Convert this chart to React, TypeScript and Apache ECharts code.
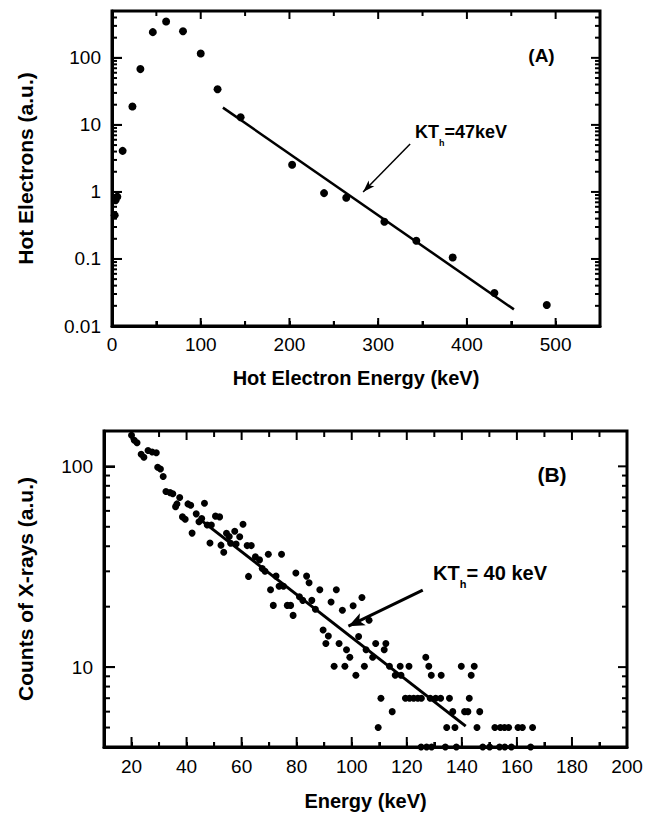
import React, { useEffect, useRef } from 'react';
import * as echarts from 'echarts';

// ---------- Panel (A) data ----------
const energyA = [3, 4, 6, 12, 23, 32, 46, 61, 80, 100, 119, 145, 203, 239, 264, 307, 343, 384, 431, 490];
const electronsA = [0.45, 0.75, 0.85, 4.1, 18.8, 68, 242, 348, 250, 116, 34, 13, 2.55, 0.96, 0.82, 0.36, 0.187, 0.105, 0.031, 0.0206];
const fitEnergyA = [125, 453];
const fitElectronsA = [18.1, 0.0177];
const arrowA = [[336, 5.2], [283, 1.0]];

// ---------- Panel (B) data ----------
const energyB = [20, 21, 22, 23.5, 24.5, 26, 27.5, 29, 29.5, 30.5, 31.5, 32.5, 34, 35, 36, 36.5, 37.5, 38.5, 39.5, 40.5,
  41.5, 42, 43.5, 44.5, 45.5, 46.5, 47.5, 48.5, 49, 50.5, 52, 52.5, 53.5, 54.5, 55.5, 56, 57.5, 58, 59.3, 60.5,
  62, 62.5, 63.5, 65, 66.5, 67.5, 68.5, 69.7, 70.5, 71.5, 72.5, 73.6, 74.5, 75.2, 76.6, 77.8, 78.7, 79.7, 81, 82.2,
  83.6, 84.5, 85.5, 86.8, 88.4, 89.6, 90.6, 91.5, 92.5, 93.6, 94.4, 95.4, 96.6, 97.5, 98.1, 99.3, 100.5, 101.5, 102.5, 103.7,
  104.6, 105.2, 106.3, 107.6, 108.7, 109.6, 110.6, 111.8, 112.4, 113.7, 114.7, 115.8, 117.6, 117.9, 119.5, 120.8, 121, 122.5, 124, 125.2,
  125.3, 126.9, 127.2, 128, 128.5, 128.9, 129, 130.5, 132.3, 132.5, 134, 134.5, 135.5, 136.7, 137.5, 138, 139.8, 141, 142.2, 142.7,
  143.4, 144.5, 145.5, 146.5, 147.6, 150.1, 152, 153.7, 154, 155.5, 155.6, 157, 158, 160.4, 162, 165, 165.7];
const countsB = [143, 135, 131, 115, 111, 120, 118, 117, 99, 97, 89, 75, 74, 73, 63, 65, 70, 56, 54.5, 65,
  64, 46.5, 58, 53, 55, 65.5, 51, 41.5, 51, 56.5, 56, 40.5, 37.3, 46.4, 44.7, 41.4, 47.5, 41, 44.6, 51.5,
  40.3, 28.3, 40.3, 35.4, 34.2, 31, 30, 36.5, 24.3, 20.3, 28.4, 25.3, 36.5, 25.3, 20.3, 20.3, 18.1, 29.4, 22.4, 21.5,
  28.4, 26.3, 21.5, 19.4, 24.3, 15.3, 13.1, 14.3, 21.1, 10.1, 24.3, 13.1, 19.2, 10.1, 12.2, 11.2, 20.2, 9.1, 14.2, 22.2,
  10.1, 12.2, 17.1, 11.2, 13.1, 5, 7, 12.2, 13.1, 10.1, 6, 9.1, 10.1, 9.1, 7, 10.1, 7, 7, 7, 4,
  7, 11.2, 4, 10.1, 7, 9.1, 4, 7, 7, 9.1, 4, 5, 7, 6, 5, 4, 10.1, 6, 6, 7,
  9.1, 10.1, 5, 6, 4, 4, 5, 4, 5, 5, 4, 5, 4, 5, 5, 4, 5];
const fitEnergyB = [44.4, 141.4];
const fitCountsB = [55.1, 5.08];
const arrowB = [[125.8, 24.2], [98.8, 16.0]];

// ---------- Tick labels / tick positions ----------
const xTicksA = [0, 100, 200, 300, 400, 500];
const xMinorA = [50, 150, 250, 350, 450];
const yTicksA = [0.01, 0.1, 1, 10, 100];
const xTicksB = [20, 40, 60, 80, 100, 120, 140, 160, 180, 200];
const xMinorB = [10, 30, 50, 70, 90, 110, 130, 150, 170, 190];
const yTicksB = [10, 100];

const X_RANGE_A = [0, 550];
const Y_RANGE_A = [0.01, 500];
const X_RANGE_B = [10, 200];
const Y_RANGE_B = [4, 150];

const FONT = '"Liberation Sans", Arial, Helvetica, sans-serif';

function logMinor(decades: number[], min: number, max: number) {
  const out: number[] = [];
  decades.forEach((d) => {
    for (let k = 2; k <= 9; k++) {
      const v = +(d * k).toPrecision(6);
      if (v > min && v < max) out.push(v);
    }
  });
  return out;
}

const near = (list: number[], v: number) => list.some((t) => Math.abs(t - v) <= Math.abs(t) * 1e-6 + 1e-9);

const labelStyle = (shown: number[], margin: number) => ({
  show: true,
  margin,
  color: '#000',
  fontFamily: FONT,
  fontSize: 19,
  formatter: (v: number) => (near(shown, v) ? String(v) : ''),
});

const nameStyle = { color: '#000', fontFamily: FONT, fontWeight: 'bold', fontSize: 20 };
const nativeTick = (length: number) => ({
  show: true,
  inside: true,
  length,
  lineStyle: { color: '#000', width: 2 },
});
const frameLine = { show: true, onZero: false, lineStyle: { color: '#000', width: 3 } };

type Side = 'bottom' | 'top' | 'left' | 'right';

// one row per tick: [x, y, dx, dy]; x/y placed through the axes, dx/dy = inward length in px
function tickRows(side: Side, values: number[], fixed: number, len: number) {
  const horizontal = side === 'left' || side === 'right';
  const dx = side === 'left' ? len : side === 'right' ? -len : 0;
  const dy = side === 'bottom' ? -len : side === 'top' ? len : 0;
  return values.map((v) => (horizontal ? [fixed, v, dx, dy] : [v, fixed, dx, dy]));
}

function tickSeries(axisIdx: number, rows: number[][]) {
  return {
    type: 'custom',
    xAxisIndex: axisIdx,
    yAxisIndex: axisIdx,
    data: rows,
    renderItem: (params: any, api: any) => {
      const p = api.coord([api.value(0), api.value(1)]);
      return {
        type: 'line',
        shape: { x1: p[0], y1: p[1], x2: p[0] + api.value(2), y2: p[1] + api.value(3) },
        style: { stroke: '#000', lineWidth: 2 },
      };
    },
  };
}

function makeTexts() {
  return [
    {
      type: 'text',
      x: 541.5,
      y: 55,
      style: { text: '(A)', fill: '#000', fontFamily: FONT, fontWeight: 'bold', fontSize: 19, align: 'center', verticalAlign: 'middle' },
    },
    {
      type: 'text',
      x: 552,
      y: 474,
      style: { text: '(B)', fill: '#000', fontFamily: FONT, fontWeight: 'bold', fontSize: 21, align: 'center', verticalAlign: 'middle' },
    },
    {
      type: 'text',
      x: 415,
      y: 123,
      style: {
        text: '{a|KT}{s|h}{a|=47keV}',
        fill: '#000',
        align: 'left',
        verticalAlign: 'top',
        rich: {
          a: { fontFamily: FONT, fontWeight: 'bold', fontSize: 18, lineHeight: 18, verticalAlign: 'top', fill: '#000' },
          s: { fontFamily: FONT, fontWeight: 'bold', fontSize: 9, lineHeight: 9, padding: [15, 0, 0, 0], verticalAlign: 'top', fill: '#000' },
        },
      },
    },
    {
      type: 'text',
      x: 433,
      y: 563,
      style: {
        text: '{a|KT}{s|h}{a|= 40 keV}',
        fill: '#000',
        align: 'left',
        verticalAlign: 'top',
        rich: {
          a: { fontFamily: FONT, fontWeight: 'bold', fontSize: 20, lineHeight: 20, verticalAlign: 'top', fill: '#000' },
          s: { fontFamily: FONT, fontWeight: 'bold', fontSize: 11, lineHeight: 11, padding: [15, 0, 0, 0], verticalAlign: 'top', fill: '#000' },
        },
      },
    },
  ];
}

export default function App() {
  const ref = useRef<HTMLDivElement>(null);

  useEffect(() => {
    if (!ref.current) return;
    const chart = echarts.init(ref.current, undefined, { renderer: 'svg' });

    const yMinorA = logMinor([0.01, 0.1, 1, 10, 100], Y_RANGE_A[0], Y_RANGE_A[1]);
    const yMinorB = logMinor([1, 10, 100], Y_RANGE_B[0], Y_RANGE_B[1]);

    const rowsA = [
      ...tickRows('bottom', xTicksA, Y_RANGE_A[0], 8),
      ...tickRows('bottom', xMinorA, Y_RANGE_A[0], 5),
      ...tickRows('top', xTicksA, Y_RANGE_A[1], 8),
      ...tickRows('top', xMinorA, Y_RANGE_A[1], 5),
      ...tickRows('left', yTicksA, X_RANGE_A[0], 10),
      ...tickRows('left', yMinorA, X_RANGE_A[0], 5),
      ...tickRows('right', yTicksA, X_RANGE_A[1], 9),
      ...tickRows('right', yMinorA, X_RANGE_A[1], 5),
    ];
    const rowsB = [
      ...tickRows('bottom', xTicksB, Y_RANGE_B[0], 10),
      ...tickRows('bottom', xMinorB, Y_RANGE_B[0], 5),
      ...tickRows('top', xTicksB, Y_RANGE_B[1], 9),
      ...tickRows('top', xMinorB, Y_RANGE_B[1], 6),
      ...tickRows('left', yTicksB, X_RANGE_B[0], 11),
      ...tickRows('left', yMinorB, X_RANGE_B[0], 6),
      ...tickRows('right', yTicksB, X_RANGE_B[1], 9),
      ...tickRows('right', yMinorB, X_RANGE_B[1], 5),
    ];

    const xAxis = [
      {
        type: 'value',
        gridIndex: 0,
        min: X_RANGE_A[0],
        max: X_RANGE_A[1],
        interval: 50,
        axisLine: frameLine,
        axisTick: nativeTick(5),
        splitLine: { show: false },
        axisLabel: labelStyle(xTicksA, 9),
        name: 'Hot Electron Energy (keV)',
        nameLocation: 'middle',
        nameGap: 42,
        nameTextStyle: nameStyle,
      },
      {
        type: 'value',
        gridIndex: 1,
        min: X_RANGE_B[0],
        max: X_RANGE_B[1],
        interval: 10,
        axisLine: frameLine,
        axisTick: nativeTick(5),
        splitLine: { show: false },
        axisLabel: labelStyle(xTicksB, 10),
        name: 'Energy (keV)',
        nameLocation: 'middle',
        nameGap: 44,
        nameTextStyle: nameStyle,
      },
    ];

    const yAxis = [
      {
        type: 'log',
        logBase: 10,
        gridIndex: 0,
        min: Y_RANGE_A[0],
        max: Y_RANGE_A[1],
        axisLine: frameLine,
        axisTick: nativeTick(10),
        splitLine: { show: false },
        axisLabel: labelStyle(yTicksA, 11),
        name: 'Hot Electrons (a.u.)',
        nameLocation: 'middle',
        nameGap: 76,
        nameTextStyle: { ...nameStyle, fontSize: 21 },
      },
      {
        type: 'log',
        logBase: 10,
        gridIndex: 1,
        min: Y_RANGE_B[0],
        max: Y_RANGE_B[1],
        axisLine: frameLine,
        axisTick: nativeTick(11),
        splitLine: { show: false },
        axisLabel: labelStyle(yTicksB, 11),
        name: 'Counts of X-rays (a.u.)',
        nameLocation: 'middle',
        nameGap: 68,
        nameTextStyle: { ...nameStyle, fontSize: 21 },
      },
    ];

    const pairs = (xs: number[], ys: number[]) => xs.map((x, i) => [x, ys[i]]);

    chart.setOption({
      animation: false,
      grid: [
        { left: 112, top: 11, width: 488, height: 315, show: true, borderColor: '#000', borderWidth: 3 },
        { left: 104, top: 431, width: 523, height: 316, show: true, borderColor: '#000', borderWidth: 3 },
      ],
      xAxis,
      yAxis,
      series: [
        {
          type: 'scatter',
          xAxisIndex: 0,
          yAxisIndex: 0,
          data: pairs(energyA, electronsA),
          symbol: 'circle',
          symbolSize: 8,
          itemStyle: { color: '#000', opacity: 1 },
          clip: false,
        },
        {
          type: 'line',
          xAxisIndex: 0,
          yAxisIndex: 0,
          data: pairs(fitEnergyA, fitElectronsA),
          symbol: 'none',
          lineStyle: { color: '#000', width: 2.5 },
          markLine: {
            silent: true,
            symbol: ['none', 'arrow'],
            symbolSize: [6, 12],
            lineStyle: { color: '#000', width: 1.5, type: 'solid' },
            label: { show: false },
            data: [[{ coord: arrowA[0] }, { coord: arrowA[1] }]],
          },
        },
        {
          type: 'scatter',
          xAxisIndex: 1,
          yAxisIndex: 1,
          data: pairs(energyB, countsB),
          symbol: 'circle',
          symbolSize: 7,
          itemStyle: { color: '#000', opacity: 1 },
          clip: false,
        },
        {
          type: 'line',
          xAxisIndex: 1,
          yAxisIndex: 1,
          data: pairs(fitEnergyB, fitCountsB),
          symbol: 'none',
          lineStyle: { color: '#000', width: 3 },
          markLine: {
            silent: true,
            symbol: ['none', 'arrow'],
            symbolSize: [10, 16],
            lineStyle: { color: '#000', width: 3, type: 'solid' },
            label: { show: false },
            data: [[{ coord: arrowB[0] }, { coord: arrowB[1] }]],
          },
        },
        tickSeries(0, rowsA),
        tickSeries(1, rowsB),
      ],
      graphic: makeTexts(),
    });

    return () => chart.dispose();
  }, []);

  return (
    <div
      ref={ref}
      style={{ position: 'absolute', left: 0, top: 0, width: 652, height: 815, background: '#fff' }}
    />
  );
}
